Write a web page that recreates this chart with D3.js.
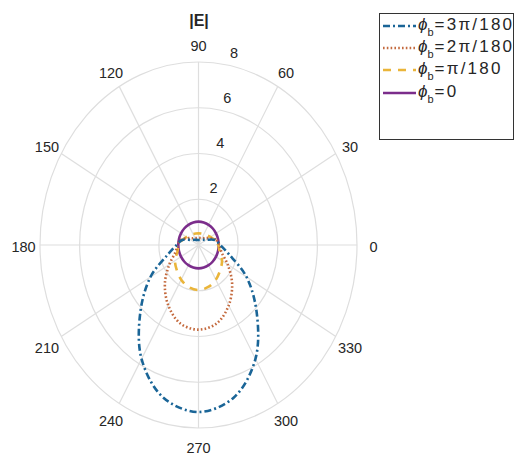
<!DOCTYPE html>
<html>
<head>
<meta charset="utf-8">
<script src="https://cdn.jsdelivr.net/npm/d3@7"></script>
<style>
  html, body { margin: 0; padding: 0; background: #fff; }
  svg { display: block; }
  text { font-family: "Liberation Sans", Arial, Helvetica, sans-serif; fill: #262626; }
</style>
</head>
<body>
<svg id="chart" width="515" height="459"></svg>
<script>
// ---- data ----
const angles = [0, 15, 30, 45, 60, 75, 90, 105, 120, 135, 150, 165, 180, 195, 210, 225, 240, 255, 270, 285, 300, 315, 330, 345];
const phi3 = [1.1, 0.85, 0.45, 0.32, 0.26, 0.23, 0.22, 0.23, 0.26, 0.32, 0.45, 0.85, 1.1, 1.6, 2.8, 4.15, 5.75, 6.9, 7.3, 6.9, 5.75, 4.15, 2.8, 1.6];
const phi2 = [1.05, 0.9, 0.6, 0.42, 0.35, 0.32, 0.31, 0.32, 0.35, 0.42, 0.6, 0.9, 1.05, 1.2, 1.7, 2.4, 3.05, 3.55, 3.7, 3.55, 3.05, 2.4, 1.7, 1.2];
const phi1 = [1.0, 0.85, 0.7, 0.6, 0.55, 0.52, 0.51, 0.52, 0.55, 0.6, 0.7, 0.85, 1.0, 1.1, 1.37, 1.55, 1.75, 1.9, 1.97, 1.9, 1.75, 1.55, 1.37, 1.1];
const phi0 = [1.02, 1.02, 1.02, 1.02, 1.02, 1.02, 1.02, 1.02, 1.02, 1.02, 1.02, 1.02, 1.02, 1.02, 1.02, 1.02, 1.02, 1.02, 1.02, 1.02, 1.02, 1.02, 1.02, 1.02];
const seriesNames = ["=3\u03C0/180", "=2\u03C0/180", "=\u03C0/180", "=0"];
const rTicks = [2, 4, 6, 8];
const thetaTicks = [0, 30, 60, 90, 120, 150, 180, 210, 240, 270, 300, 330];
const title = "|E|";

// ---- layout ----
const svg = d3.select("#chart");
const cx = 198.5, cy = 245;
const rx = d3.scaleLinear().domain([0, 8]).range([0, 158.5]);
const ry = d3.scaleLinear().domain([0, 8]).range([0, 183]);
const rad = d => d * Math.PI / 180;
const px = (r, a) => cx + rx(r) * Math.cos(rad(a));
const py = (r, a) => cy - ry(r) * Math.sin(rad(a));

const grid = svg.append("g");
const gridColor = "#dedede";
rTicks.forEach(t => {
  grid.append("ellipse").attr("cx", cx).attr("cy", cy)
    .attr("rx", rx(t)).attr("ry", ry(t))
    .attr("fill", "none").attr("stroke", gridColor).attr("stroke-width", 1.2);
});
thetaTicks.forEach(a => {
  grid.append("line").attr("x1", cx).attr("y1", cy)
    .attr("x2", px(8, a)).attr("y2", py(8, a))
    .attr("stroke", gridColor).attr("stroke-width", 1.2);
});

// angle labels
thetaTicks.forEach(a => {
  const lx = cx + 175 * Math.cos(rad(a));
  const ly = cy + 2 - 201 * Math.sin(rad(a));
  svg.append("text").attr("x", lx).attr("y", ly)
    .attr("text-anchor", "middle").attr("dominant-baseline", "central")
    .attr("font-size", 14.5).text(a);
});
// radial tick labels
rTicks.forEach(t => {
  svg.append("text").attr("x", px(t, 80) + 4).attr("y", py(t, 80) - 7)
    .attr("font-size", 14.5).text(t);
});
// title
svg.append("text").attr("x", 199).attr("y", 26).attr("text-anchor", "middle")
  .attr("font-size", 16).attr("font-weight", "bold").text(title);

// ---- series ----
const series = [
  { vals: phi3, color: "#1a6597", dash: "7,3,2,3", width: 2.6 },
  { vals: phi2, color: "#c46a3e", dash: "1.6,2.2", width: 2.6 },
  { vals: phi1, color: "#eab53a", dash: "8,7", width: 2.6 },
  { vals: phi0, color: "#7b2d8b", dash: null, width: 2.6 }
];
const line = d3.line()
  .x(d => px(d.r, d.a))
  .y(d => py(d.r, d.a))
  .curve(d3.curveCatmullRomClosed.alpha(0.5));

series.slice().reverse().forEach(s => {
  const pts = angles.map((a, i) => ({ a: a, r: s.vals[i] }));
  svg.append("path").attr("d", line(pts))
    .attr("fill", "none").attr("stroke", s.color)
    .attr("stroke-width", s.width)
    .attr("stroke-dasharray", s.dash)
    .attr("stroke-linejoin", "round");
});

// ---- legend ----
const lg = svg.append("g");
lg.append("rect").attr("x", 379.5).attr("y", 13.5).attr("width", 134).attr("height", 126)
  .attr("fill", "#fff").attr("stroke", "#333").attr("stroke-width", 1);
const rowY = [26, 48, 70, 93];
series.forEach((s, i) => {
  const y = rowY[i];
  lg.append("line").attr("x1", 383).attr("x2", 416).attr("y1", y).attr("y2", y)
    .attr("stroke", s.color).attr("stroke-width", s.width)
    .attr("stroke-dasharray", s.dash);
  const t = lg.append("text").attr("x", 418).attr("y", y + 4).attr("font-size", 17);
  t.append("tspan").attr("font-style", "italic").text("\u03D5");
  t.append("tspan").attr("font-size", 11).attr("dy", 6).text("b");
  t.append("tspan").attr("dy", -6).attr("dx", 1).attr("letter-spacing", 2.2).text(seriesNames[i]);
});
</script>
</body>
</html>
